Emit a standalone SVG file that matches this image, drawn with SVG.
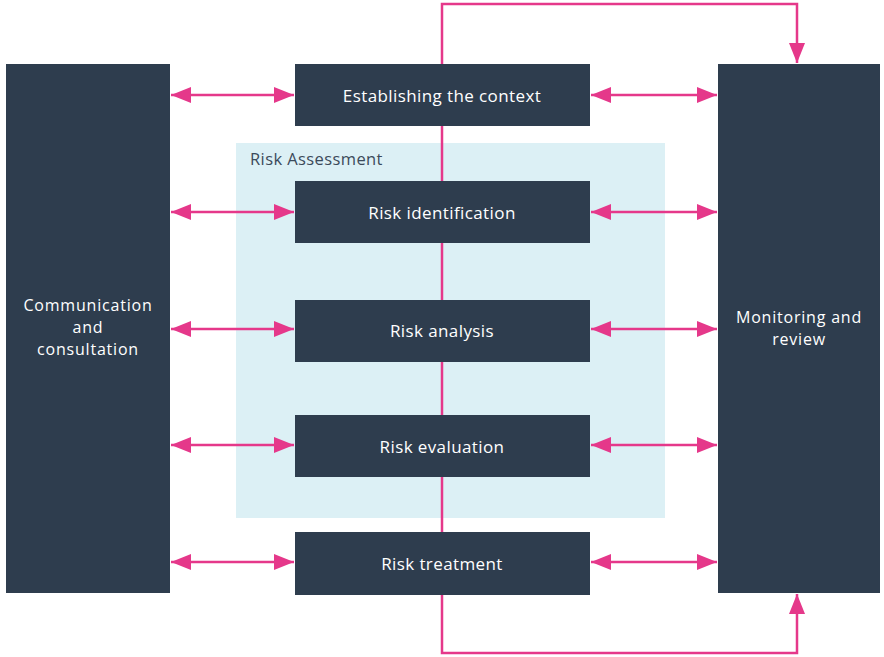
<svg xmlns="http://www.w3.org/2000/svg" width="884" height="657" viewBox="0 0 884 657">
<defs>
<style>
.box{fill:#2e3d4e}
.t{font-family:"Open Sans","Liberation Sans",sans-serif;font-size:17px;letter-spacing:0.4px;fill:#ffffff;text-anchor:middle;dominant-baseline:central}
.s{font-size:16px;letter-spacing:0.8px}
.c{stroke:#e5388a;stroke-width:2.5;fill:none}
</style>
<marker id="ah" viewBox="0 0 20 16" refX="20" refY="8" markerWidth="20" markerHeight="16" markerUnits="userSpaceOnUse" orient="auto-start-reverse">
<path d="M0,0 L20,8 L0,16 Z" fill="#e5388a"/>
</marker>
</defs>
<rect width="884" height="657" fill="#ffffff"/>
<g id="risk-assessment">
<rect x="236" y="143" width="429" height="375" fill="#dcf0f5"/>
<text x="250" y="158" font-family="'Open Sans','Liberation Sans',sans-serif" font-size="16.5" letter-spacing="0.4" fill="#3b4a5a" dominant-baseline="central">Risk Assessment</text>
</g>
<g id="connectors">
<line class="c" x1="442" y1="126" x2="442" y2="532"/>
<polyline class="c" points="442,64 442,4 797,4 797,63" marker-end="url(#ah)"/>
<polyline class="c" points="442,595 442,653 797,653 797,594" marker-end="url(#ah)"/>
<line class="c" x1="171" y1="95" x2="294" y2="95" marker-start="url(#ah)" marker-end="url(#ah)"/>
<line class="c" x1="171" y1="212" x2="294" y2="212" marker-start="url(#ah)" marker-end="url(#ah)"/>
<line class="c" x1="171" y1="329" x2="294" y2="329" marker-start="url(#ah)" marker-end="url(#ah)"/>
<line class="c" x1="171" y1="445" x2="294" y2="445" marker-start="url(#ah)" marker-end="url(#ah)"/>
<line class="c" x1="171" y1="562" x2="294" y2="562" marker-start="url(#ah)" marker-end="url(#ah)"/>
<line class="c" x1="591" y1="95" x2="717" y2="95" marker-start="url(#ah)" marker-end="url(#ah)"/>
<line class="c" x1="591" y1="212" x2="717" y2="212" marker-start="url(#ah)" marker-end="url(#ah)"/>
<line class="c" x1="591" y1="329" x2="717" y2="329" marker-start="url(#ah)" marker-end="url(#ah)"/>
<line class="c" x1="591" y1="445" x2="717" y2="445" marker-start="url(#ah)" marker-end="url(#ah)"/>
<line class="c" x1="591" y1="562" x2="717" y2="562" marker-start="url(#ah)" marker-end="url(#ah)"/>
</g>
<g id="communication">
<rect class="box" x="6" y="64" width="164" height="529"/>
<text class="t s" x="88" y="305"><tspan x="88" y="305">Communication</tspan><tspan x="88" y="327">and</tspan><tspan x="88" y="349">consultation</tspan></text>
</g>
<g id="monitoring">
<rect class="box" x="718" y="64" width="162" height="529"/>
<text class="t s" x="799" y="317"><tspan x="799" y="317">Monitoring and</tspan><tspan x="799" y="339">review</tspan></text>
</g>
<g id="context">
<rect class="box" x="295" y="64" width="295" height="62"/>
<text class="t" x="442" y="95">Establishing the context</text>
</g>
<g id="identification">
<rect class="box" x="295" y="181" width="295" height="62"/>
<text class="t" x="442" y="212">Risk identification</text>
</g>
<g id="analysis">
<rect class="box" x="295" y="300" width="295" height="62"/>
<text class="t" x="442" y="330">Risk analysis</text>
</g>
<g id="evaluation">
<rect class="box" x="295" y="415" width="295" height="62"/>
<text class="t" x="442" y="446">Risk evaluation</text>
</g>
<g id="treatment">
<rect class="box" x="295" y="532" width="295" height="63"/>
<text class="t" x="442" y="563">Risk treatment</text>
</g>
</svg>
